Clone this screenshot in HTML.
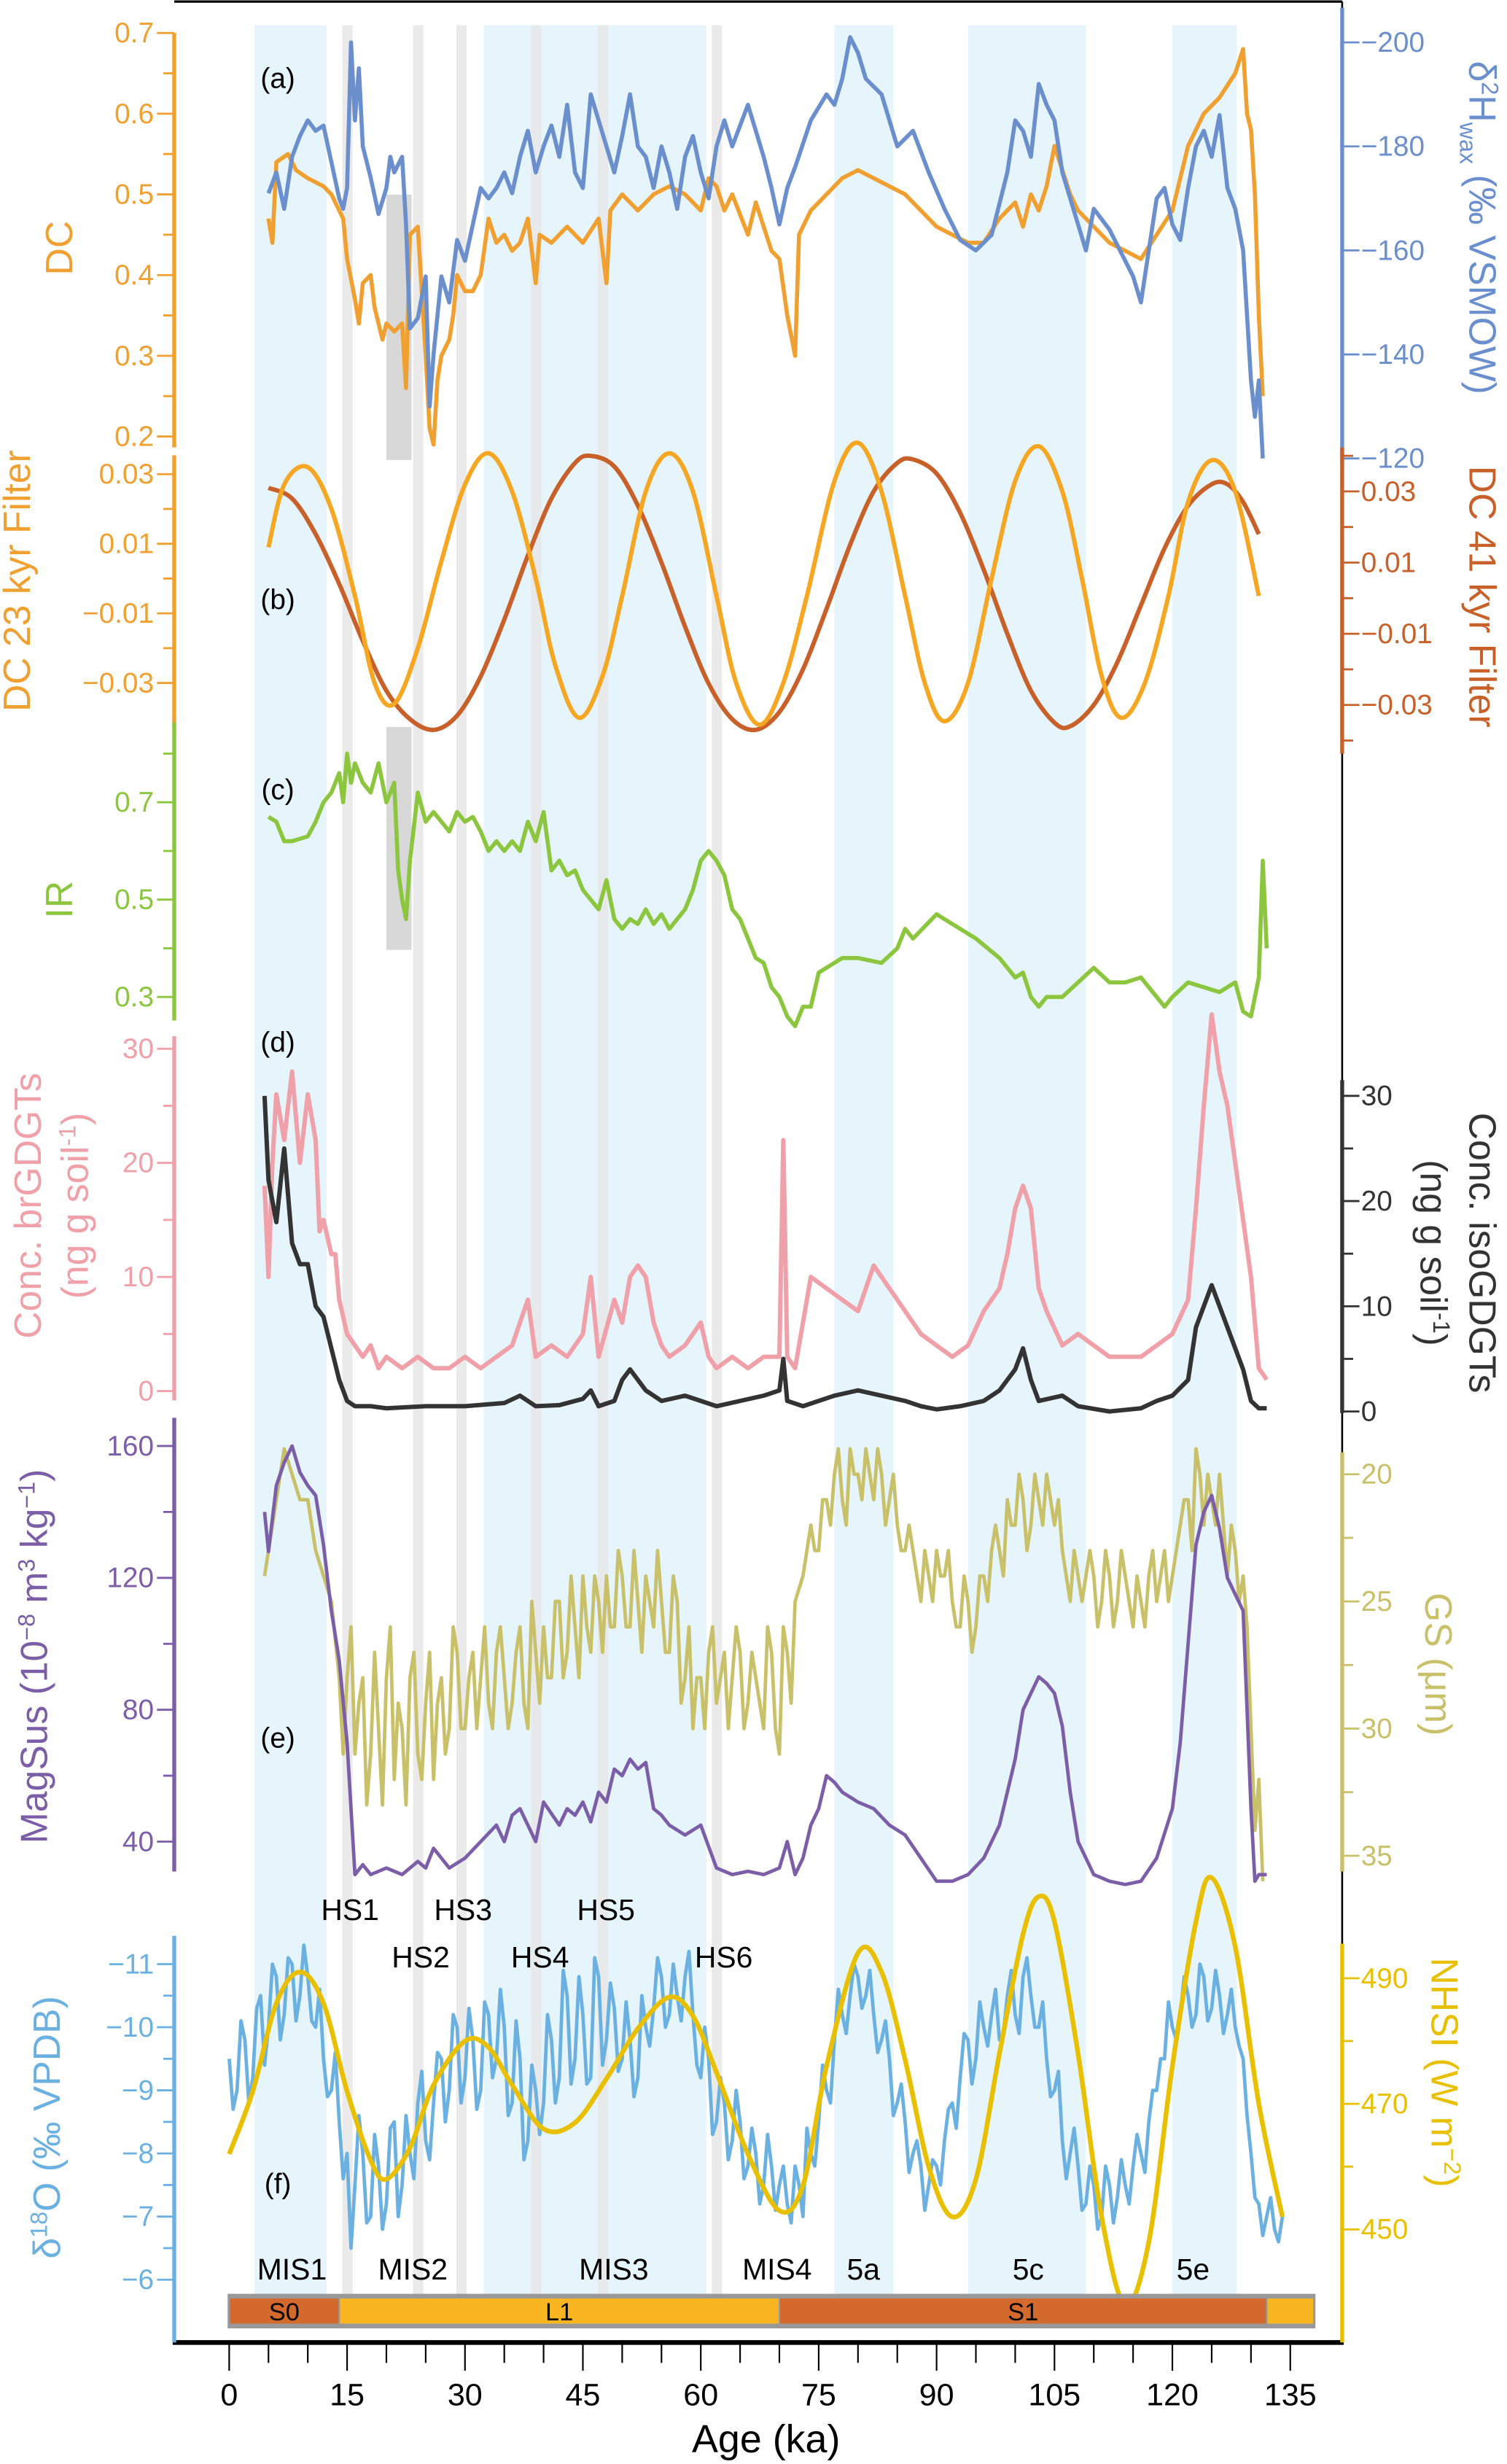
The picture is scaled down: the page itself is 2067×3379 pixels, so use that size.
<!DOCTYPE html>
<html><head><meta charset="utf-8"><style>
html,body{margin:0;padding:0;background:#fff}
svg{display:block}
text{font-family:"Liberation Sans",sans-serif}
</style></head><body>
<svg id="chart" width="2067" height="3379" viewBox="0 0 960 1569.4" preserveAspectRatio="none" xmlns="http://www.w3.org/2000/svg">
<g id="bands"></g>
<g id="series"></g>
<g id="axes"></g>
</svg>
<script>
// ---------- data ----------
const bandStarts=[3.2,32.4,77,94,120];
const bandEnds=[12.4,60.7,84.5,109,128.2];
const hsAges=[15,24,29.5,39,47.5,62];

const dcAge=[5,5.5,6,7.5,8.5,10,12,13,14,14.5,15,16,16.5,17,18,18.5,19,19.5,20,21,22,22.5,23,24,24.5,25,25.5,26,26.5,27,28,28.5,29,30,31,32,33,34,35,36,37,38,39,39.5,41,43,45,47,48,48.5,50,52,54,56,58,60,61,62,63,64,66,67,68,69,70,71,72,72.5,74,76,78,80,82,84,86,88,90,92,94,96,98,100,101,102,103,104,105,106,107,108,110,112,114,116,118,120,122,124,126,128,129,129.5,130,130.5,131,131.5];
const dcVal=[0.47,0.44,0.54,0.55,0.53,0.52,0.51,0.50,0.48,0.47,0.42,0.37,0.34,0.39,0.40,0.36,0.34,0.32,0.34,0.33,0.34,0.26,0.45,0.46,0.38,0.30,0.21,0.19,0.27,0.30,0.32,0.35,0.40,0.38,0.38,0.40,0.47,0.44,0.45,0.43,0.44,0.47,0.39,0.45,0.44,0.46,0.44,0.47,0.39,0.48,0.50,0.48,0.50,0.51,0.50,0.48,0.52,0.51,0.48,0.50,0.45,0.49,0.46,0.43,0.42,0.35,0.30,0.45,0.48,0.50,0.52,0.53,0.52,0.51,0.50,0.48,0.46,0.45,0.44,0.44,0.47,0.49,0.46,0.50,0.48,0.51,0.56,0.53,0.50,0.48,0.46,0.44,0.43,0.42,0.45,0.48,0.56,0.60,0.62,0.65,0.68,0.60,0.58,0.50,0.35,0.25];

const dhAge=[5,6,7,8,9,10,11,12,13,14,14.5,15,15.5,16,16.5,17,18,19,20,20.5,21,22,22.5,23,24,25,25.5,26,27,28,29,30,31,32,33,34,35,36,37,38,39,40,41,42,43,44,45,46,47,48,49,50,51,52,53,54,55,56,57,58,59,60,61,62,63,64,66,68,69,70,71,72,74,76,77,78,79,80,81,83,85,87,89,91,93,95,97,99,100,101,102,103,104,105,106,107,108,109,110,112,114,115,116,117,118,119,120,121,122,123,124,125,126,127,128,129,130,130.5,131,131.5];
const dhVal=[-171,-175,-168,-178,-182,-185,-183,-184,-177,-170,-168,-172,-200,-185,-195,-180,-174,-167,-172,-178,-175,-178,-165,-145,-147,-155,-130,-140,-155,-150,-162,-158,-165,-172,-170,-172,-175,-171,-178,-183,-175,-180,-184,-178,-188,-175,-172,-190,-185,-180,-175,-182,-190,-180,-178,-172,-180,-175,-168,-178,-182,-175,-170,-180,-185,-180,-188,-178,-172,-165,-172,-176,-185,-190,-188,-193,-201,-198,-193,-190,-180,-183,-175,-168,-162,-160,-163,-175,-185,-183,-178,-192,-188,-185,-175,-170,-165,-160,-168,-164,-158,-155,-150,-160,-170,-172,-165,-162,-172,-180,-183,-178,-186,-172,-168,-160,-135,-128,-135,-120];

const f23Age=[5,7,10,13,16,18.5,21,24,27,30,33,36,39,41.5,44.5,47.5,50,53,56,59,62,64.5,67.5,70.5,73.5,77,80,83,86,88.5,91,94,97,100,103,106,108.5,111,113.5,116.5,119.5,122,125,128,131];
const f23Val=[0.009,0.027,0.032,0.02,-0.005,-0.03,-0.036,-0.02,0.005,0.027,0.036,0.025,0,-0.025,-0.04,-0.028,-0.005,0.025,0.036,0.025,-0.005,-0.03,-0.042,-0.03,-0.005,0.028,0.039,0.025,-0.005,-0.03,-0.041,-0.03,0,0.028,0.038,0.025,0,-0.028,-0.04,-0.03,-0.005,0.022,0.034,0.025,-0.005];
const f41Age=[5,8,11,14,17,20,23,26,29,32,35,38,41,44,46,49,52,55,58,61,64,67,70,73,76,79,82,85,87,90,93,96,99,102,105,107,110,113,116,119,122,125,127,129,131];
const f41Val=[0.031,0.028,0.018,0.004,-0.012,-0.026,-0.034,-0.037,-0.033,-0.022,-0.006,0.012,0.028,0.038,0.04,0.037,0.026,0.01,-0.008,-0.024,-0.034,-0.037,-0.032,-0.02,-0.003,0.015,0.03,0.038,0.039,0.035,0.024,0.008,-0.01,-0.026,-0.035,-0.036,-0.03,-0.018,-0.002,0.014,0.026,0.032,0.032,0.027,0.018];

const irAge=[5,6,7,8,10,11,12,13,14,14.5,15,15.5,16,17,18,19,20,21,21.5,22,22.5,23,24,25,26,27,28,29,30,31,32,33,34,35,36,37,38,39,40,41,42,43,44,45,46,47,48,49,50,51,52,53,54,55,56,57,58,59,60,61,62,63,64,65,66,67,68,69,70,71,72,73,74,75,76,78,80,83,85,86,87,90,92,95,98,100,101,102,103,104,106,108,110,112,114,116,118,119,120,122,124,126,128,129,130,131,131.5,132];
const irVal=[0.67,0.66,0.62,0.62,0.63,0.66,0.70,0.72,0.76,0.70,0.80,0.74,0.78,0.74,0.72,0.78,0.70,0.74,0.56,0.50,0.46,0.58,0.72,0.66,0.68,0.66,0.64,0.68,0.66,0.67,0.64,0.60,0.62,0.60,0.62,0.60,0.66,0.62,0.68,0.56,0.58,0.55,0.56,0.52,0.50,0.48,0.54,0.46,0.44,0.46,0.45,0.48,0.45,0.47,0.44,0.46,0.48,0.52,0.58,0.60,0.58,0.55,0.48,0.46,0.42,0.38,0.37,0.32,0.30,0.26,0.24,0.28,0.28,0.35,0.36,0.38,0.38,0.37,0.40,0.44,0.42,0.47,0.45,0.42,0.38,0.34,0.35,0.30,0.28,0.30,0.30,0.33,0.36,0.33,0.33,0.34,0.30,0.28,0.30,0.33,0.32,0.31,0.33,0.27,0.26,0.34,0.58,0.40];

const brAge=[4.5,5,5.5,6,7,8,9,10,11,11.5,12,13,13.5,14,15,16,17,18,19,20,22,24,26,28,30,32,34,36,38,39,41,43,45,46,47,49,50,51,52,53,54,55,56,58,60,61,62,64,66,68,70,70.5,71,72,73,74,76,78,80,82,84,86,88,90,92,94,96,98,99,100,101,102,103,104,106,108,110,112,114,116,118,120,122,123,124,125,126,127,128,129,130,131,132];
const brVal=[18,10,20,26,22,28,20,26,22,14,15,12,12,8,5,4,3,4,2,3,2,3,2,2,3,2,3,4,8,3,4,3,5,10,3,8,6,10,11,10,6,4,3,4,6,3,2,3,2,3,3,22,3,2,6,10,9,8,7,11,9,7,5,4,3,4,7,9,12,16,18,16,9,7,4,5,4,3,3,3,4,5,8,16,25,33,28,25,20,15,10,2,1];
const isoAge=[4.5,5,6,7,8,9,10,11,12,13,14,15,16,18,20,25,30,35,37,39,42,45,46,47,49,50,51,52,53,55,58,60,62,65,68,70,70.5,71,73,75,77,80,83,86,88,90,93,96,98,100,101,102,103,106,108,112,116,118,120,122,123,124,125,126,127,128,129,130,131,132];
const isoVal=[30,22,18,25,16,14,14,10,9,6,3,1,0.5,0.5,0.3,0.5,0.5,0.8,1.5,0.5,0.6,1.2,2,0.5,1,3,4,3,2,1,1.5,1,0.5,1,1.5,2,5,1,0.5,1,1.5,2,1.5,1,0.5,0.2,0.5,1,2,4,6,3,1,1.5,0.5,0,0.3,1,1.5,3,8,10,12,10,8,6,4,1,0.3,0.3];

const msAge=[4.5,5,6,7,8,9,10,11,12,13,14,15,16,17,18,20,22,24,25,26,28,30,32,34,35,36,37,38,39,40,42,43,44,45,46,47,48,49,50,51,52,53,54,55,56,58,60,62,64,66,68,70,71,72,73,74,75,76,77,78,80,82,84,86,88,90,92,94,96,98,100,101,102,103,104,105,106,107,108,110,112,114,116,118,120,121,122,123,124,125,126,127,128,129,130,130.5,131,132];
const msVal=[140,128,148,155,160,152,148,145,130,110,95,70,30,33,30,32,30,34,32,38,32,35,40,45,40,48,50,45,40,52,45,50,48,52,46,55,52,62,60,65,62,64,50,48,45,42,45,32,30,31,30,32,40,30,35,45,50,60,58,55,52,50,45,42,35,28,28,30,35,45,65,80,85,90,88,85,75,55,40,30,28,27,28,35,50,70,100,130,140,145,135,120,115,110,50,28,30,30];

const gsAge=[4.5,5,6,7,8,9,10,11,12,13,14,15,16,17,18,19,20,21,22,23,24,25,26,27,28,29,30,31,32,33,34,35,36,37,38,39,40,41,42,43,44,45,46,47,48,49,50,51,52,53,54,55,56,57,58,59,60,61,62,63,64,65,66,67,68,69,70,71,72,73,74,75,76,77,78,79,80,81,82,83,84,85,86,87,88,89,90,91,92,93,94,95,96,97,98,99,100,101,102,103,104,105,106,107,108,110,111,112,113,114,115,116,117,118,119,120,121,122,123,124,125,126,127,128,129,130,130.5,131,131.5];
const gsVal=[24,23,21,19,20,21,21,23,24,25,28,28,31,28,31,30,28,32,30,28,31,29,32,28,30,27,30,27,28,29,27,28,29,26,30,27,26,28,25,27,26,24,27,25,24,26,24,26,25,24,26,25,27,25,28,30,28,27,29,27,28,27,29,28,30,27,31,27,25,24,22,23,21,20,21,19,20,19,21,20,21,22,23,23,25,24,23,24,25,26,25,26,24,23,23,21,22,21,22,21,20,22,23,25,24,24,25,24,25,24,26,25,24,25,23,24,22,21,19,22,21,20,24,23,24,30,34,32,36];
const gsMidAge=[14.5,15.5,16.5,17.5,18.5,19.5,20.5,21.5,22.5,23.5,24.5,25.5,26.5,27.5,28.5,29.5,30.5,31.5,32.5,33.5,34.5,35.5,36.5,37.5,38.5,39.5,40.5,41.5,42.5,43.5,44.5,45.5,46.5,47.5,48.5,49.5,50.5,51.5,52.5,53.5,54.5,55.5,56.5,57.5,58.5,59.5,60.5,61.5,62.5,63.5,64.5,65.5,66.5,67.5,68.5,69.5,70.5,71.5,73.5,74.5,75.5,76.5,77.5,78.5,79.5,80.5,81.5,82.5,83.5,84.5,85.5,86.5,87.5,88.5,89.5,90.5,91.5,92.5,93.5,94.5,95.5,96.5,97.5,98.5,99.5,100.5,101.5,102.5,103.5,104.5,105.5,106.5,107.5,108.5,109.5,110.5,111.5,112.5,113.5,114.5,115.5,116.5,117.5,118.5,119.5,120.5,121.5,122.5,123.5,124.5,125.5,126.5,127.5,128.5,129.5];
const gsMidVal=[31,26,29,33,27,33,26,29,33,27,32,27,29,31,26,30,28,30,26,30,26,30,27,29,25,29,28,25,28,24,28,26,24,27,26,23,26,23,27,25,23,27,24,29,26,28,30,26,28,30,26,30,27,29,26,30,26,29,23,23,21,22,19,22,20,21,20,19,22,20,23,22,24,23,25,24,23,26,24,27,24,25,22,24,22,20,23,20,22,21,21,24,23,25,23,26,23,26,23,25,24,26,23,24,25,23,21,23,20,20,22,22,22,25,26];

const d18Age=[0,1,2,3,4,5,6,7,8,9,10,11,12,13,14,15,15.5,16,17,18,19,20,21,22,23,24,25,26,27,28,29,30,31,32,33,34,35,36,37,38,39,40,41,42,43,44,45,46,47,48,49,50,51,52,53,54,55,56,57,58,59,60,61,62,63,64,65,66,67,68,69,70,71,72,73,74,75,76,77,78,79,80,81,82,83,84,85,86,87,88,89,90,91,92,93,94,95,96,97,98,99,100,101,102,103,104,105,106,107,108,109,110,111,112,113,114,115,116,117,118,119,120,121,122,123,124,125,126,127,128,129,130,131,132,133,134];
const d18Val=[-9.5,-9,-9.8,-9.2,-10.5,-10,-10.8,-10.2,-11,-10.5,-10.8,-10,-9.5,-9,-8.5,-8,-6.5,-7.5,-8,-7,-7.8,-7.2,-8.5,-7.5,-8,-8.8,-8.2,-8.8,-9.5,-9,-10,-9.2,-9.8,-9,-10.2,-9.5,-10,-8.8,-9.5,-8.2,-9,-8.8,-9.8,-9.2,-10.5,-9.5,-10.2,-9.2,-10.8,-9.8,-10.3,-9.5,-9.8,-9.2,-10,-10.3,-10.8,-10.2,-10.5,-10.8,-10.2,-9.2,-9.5,-8.5,-8.8,-8.2,-8.5,-7.8,-8,-7.5,-7.8,-7.5,-7.2,-7.8,-7,-8,-8.5,-9,-9.8,-10.2,-10.5,-10.8,-10.5,-10.2,-9.8,-9.5,-8.8,-8.5,-8,-7.8,-7.5,-7.8,-8.2,-8.8,-9.2,-9.8,-9.5,-10,-10.2,-9.8,-10.5,-10.2,-10.8,-10.5,-10,-9.5,-9,-8.2,-8,-7.8,-7.2,-7.5,-7,-7.5,-7.3,-7.5,-7.8,-8,-8.5,-9,-9.5,-10,-10.2,-10.5,-10.2,-10.8,-10.3,-10.5,-10.2,-10,-9.5,-8,-7.2,-7,-6.8,-7];
const d18MidAge=[0.5,1.5,2.5,3.5,4.5,5.5,6.5,7.5,8.5,9.5,10.5,11.5,12.5,13.5,14.5,16.5,17.5,18.5,19.5,20.5,21.5,22.5,23.5,24.5,25.5,26.5,27.5,28.5,29.5,30.5,31.5,32.5,33.5,34.5,35.5,36.5,37.5,38.5,39.5,40.5,41.5,42.5,43.5,44.5,45.5,46.5,47.5,48.5,49.5,50.5,51.5,52.5,53.5,54.5,55.5,56.5,57.5,58.5,59.5,60.5,61.5,62.5,63.5,64.5,65.5,66.5,67.5,68.5,69.5,70.5,71.5,72.5,73.5,74.5,75.5,76.5,77.5,78.5,79.5,80.5,81.5,82.5,83.5,84.5,85.5,86.5,87.5,88.5,89.5,90.5,91.5,92.5,93.5,94.5,95.5,96.5,97.5,98.5,99.5,100.5,101.5,102.5,103.5,104.5,105.5,106.5,107.5,108.5,109.5,110.5,111.5,112.5,113.5,114.5,115.5,116.5,117.5,118.5,119.5,120.5,121.5,122.5,123.5,124.5,125.5,126.5,127.5,128.5,129.5,130.5,131.5,132.5,133.5];
const d18MidVal=[-8.7,-10.1,-8.8,-10.3,-9.4,-11,-9.8,-11.1,-10.1,-11.3,-10.1,-10.6,-8.9,-9.6,-7.6,-8.6,-6.9,-8.3,-6.8,-8.4,-7,-8.6,-7.6,-9.3,-7.9,-9.6,-8.5,-10.2,-8.8,-10.3,-8.7,-10.4,-9.2,-10.6,-8.6,-10.1,-7.9,-9.4,-8.3,-10.2,-8.8,-10.9,-9.1,-10.8,-9.1,-11.1,-9.4,-10.7,-9.3,-10.4,-8.9,-10.5,-9.7,-11.1,-10,-11,-10.1,-11.2,-9.4,-10,-8.3,-9.2,-7.9,-9,-7.6,-8.4,-7.2,-8.3,-7.1,-7.8,-6.9,-7.5,-8.4,-7.8,-9.4,-8.8,-10.6,-9.9,-11,-10.3,-10.9,-9.6,-10.1,-8.6,-9.1,-7.7,-8.2,-7.1,-7.9,-7.5,-8.7,-8.4,-9.9,-9.1,-10.4,-9.7,-10.6,-9.9,-10.9,-9.9,-11.1,-10,-10.4,-8.9,-9.3,-7.6,-8.4,-7.1,-7.8,-6.8,-7.8,-6.9,-7.9,-7.2,-8.3,-7.7,-9,-9.5,-10.4,-9.8,-10.8,-10,-11,-10.1,-10.9,-9.9,-10.6,-9.7,-8.6,-7.3,-6.7,-7.3,-6.6];

const nhAge=[0,3,6,9,12,15,18,20,23,26,30,33,36,40,44,48,52,56,59,62,66,70,73,76,80,83,86,89,92,95,98,101,103,105,108,111,114,117,120,123,125,128,131,134];
const nhVal=[462,472,486,491,486,472,461,458,463,473,480,479,473,466,467,474,482,487,484,475,462,453,457,476,494,491,477,460,452,458,478,497,503,499,478,452,438,448,476,499,506,495,470,452];

const stratNames=["S0","L1","S1",""];
const stratStart=[0,14,70,132];
const stratEnd=[14,70,132,138];

// ---------- helpers ----------
const NS="http://www.w3.org/2000/svg";
const X=a=>146+a*5.007;
function lin(v0,y0,v1,y1){return v=>y0+(v-v0)*(y1-y0)/(v1-v0);}
function mk(tag,attrs,parent){const e=document.createElementNS(NS,tag);for(const k in attrs)e.setAttribute(k,attrs[k]);parent.appendChild(e);return e;}
function merge(a1,v1,a2,v2){const p=a1.map((a,i)=>[a,v1[i]]).concat(a2.map((a,i)=>[a,v2[i]]));p.sort((x,y)=>x[0]-y[0]);return [p.map(q=>q[0]),p.map(q=>q[1])];}
const gB=document.getElementById('bands'),gS=document.getElementById('series'),gA=document.getElementById('axes');

const yDC=lin(0.7,21,0.2,278), yDH=lin(-200,27,-120,292);
const yF23=lin(0.03,302,-0.03,435), yF41=lin(0.03,313,-0.03,449);
const yIR=lin(0.7,511,0.3,635);
const yBR=lin(30,668,0,886), yISO=lin(30,698,0,899);
const yMS=lin(160,921,40,1173), yGS=lin(20,939,35,1182);
const yD18=lin(-11,1251,-6,1452), yNH=lin(490,1260,450,1420);

for(let i=0;i<bandStarts.length;i++){
  const r=mk('rect',{x:X(bandStarts[i]),y:16,width:X(bandEnds[i])-X(bandStarts[i]),height:1467,fill:'#e6f4fb'},gB);
  
  
}
for(let i=0;i<hsAges.length;i++){
  const r=mk('rect',{x:X(hsAges[i])-3,y:16,width:6.5,height:1467,fill:'#e6e6e6',opacity:0.85},gB);
  
  
}
let db=mk('rect',{x:X(20),y:124,width:X(23.2)-X(20),height:169,fill:'#d8d8d8'},gB);


db=mk('rect',{x:X(20),y:463,width:X(23.2)-X(20),height:142,fill:'#d8d8d8'},gB);



function smoothPath(pts){
  let d='M'+pts[0][0]+','+pts[0][1];
  for(let i=0;i<pts.length-1;i++){
    const p0=pts[Math.max(0,i-1)],p1=pts[i],p2=pts[i+1],p3=pts[Math.min(pts.length-1,i+2)];
    const c1=[p1[0]+(p2[0]-p0[0])/6,p1[1]+(p2[1]-p0[1])/6],c2=[p2[0]-(p3[0]-p1[0])/6,p2[1]-(p3[1]-p1[1])/6];
    d+=' C'+c1.join(',')+' '+c2.join(',')+' '+p2.join(',');
  }
  return d;
}
function series(ages,vals,yf,color,w,name,smooth){
  const pts=ages.map((a,i)=>[X(a),yf(vals[i])]);
  const d=smooth?smoothPath(pts):'M'+pts.map(p=>p.join(',')).join(' L');
  const p=mk('path',{d:d,fill:'none',stroke:color,'stroke-width':w,'stroke-linejoin':'round'},gS);
  
  
}
const gsAll=merge(gsAge,gsVal,gsMidAge,gsMidVal);
const d18All=merge(d18Age,d18Val,d18MidAge,d18MidVal);
series(dcAge,dcVal,yDC,'#f0a030',2.6,'dc-line');
series(dhAge,dhVal,yDH,'#6a8fcc',2.6,'d2h-wax-line');
series(f41Age,f41Val,yF41,'#c8602a',2.8,'dc-41kyr-filter-line',true);
series(f23Age,f23Val,yF23,'#f5a623',2.8,'dc-23kyr-filter-line',true);
series(irAge,irVal,yIR,'#8cc63f',2.6,'ir-line');
series(brAge,brVal,yBR,'#f0a0a8',2.8,'brgdgt-line');
series(isoAge,isoVal,yISO,'#333333',2.8,'isogdgt-line');
series(gsAll[0],gsAll[1],yGS,'#c9c06a',2.2,'grain-size-line');
series(msAge,msVal,yMS,'#7b5ea7',2.2,'magsus-line');
series(d18All[0],d18All[1],yD18,'#6ab0e0',2.2,'d18o-line');
series(nhAge,nhVal,yNH,'#e8c000',3,'nhsi-line',true);

mk('rect',{x:X(0)-1,y:1461,width:X(138)-X(0)+2,height:22,fill:'#999'},gS);
const sc=['#d4692e','#f9b620','#d4692e','#f9b620'];
for(let i=0;i<stratNames.length;i++){
  const r=mk('rect',{x:X(stratStart[i])+0.5,y:1464,width:X(stratEnd[i])-X(stratStart[i])-1,height:16,fill:sc[i]},gS);
  
  
  if(stratNames[i]){
    const t=mk('text',{x:(X(stratStart[i])+X(stratEnd[i]))/2,y:1478,'text-anchor':'middle','font-size':16,fill:'#000'},gS);
    t.textContent=stratNames[i];
    
    
  }
}

mk('line',{x1:111,y1:1,x2:855,y2:1,stroke:'#000','stroke-width':1.5},gA);
mk('line',{x1:855,y1:1,x2:855,y2:1492,stroke:'#000','stroke-width':1.2},gA);
const xa=mk('line',{x1:110,y1:1492,x2:856,y2:1492,stroke:'#000','stroke-width':3},gA);


for(let a=0;a<=138;a+=5){
  mk('line',{x1:X(a),y1:1492,x2:X(a),y2:a%15===0?1510:1505,stroke:'#000','stroke-width':1},gA);
}
const xTicks=[0,15,30,45,60,75,90,105,120,135];
xTicks.forEach(a=>{const t=mk('text',{x:X(a),y:1532,'text-anchor':'middle','font-size':20},gA);t.textContent=a;
  
  });
let tt=mk('text',{x:488,y:1562,'text-anchor':'middle','font-size':25},gA);tt.textContent='Age (ka)';



function axis(side,y0,y1,yf,ticks,labels,minor,color,name){
  const x=side==='L'?111:855,dir=side==='L'?-1:1;
  const l=mk('line',{x1:x,y1:y0,x2:x,y2:y1,stroke:color,'stroke-width':2.5},gA);
  
  
  minor.forEach(v=>mk('line',{x1:x,y1:yf(v),x2:x+dir*7,y2:yf(v),stroke:color,'stroke-width':1.3},gA));
  ticks.forEach((v,i)=>{
    mk('line',{x1:x,y1:yf(v),x2:x+dir*11,y2:yf(v),stroke:color,'stroke-width':1.3},gA);
    const t=mk('text',{x:x+dir*(side==='L'?13:12),y:yf(v)+6,'text-anchor':side==='L'?'end':'start','font-size':18,fill:color},gA);
    t.textContent=labels[i];
    
    
  });
}
const OR='#f0a030';
axis('L',21,285,yDC,[0.7,0.6,0.5,0.4,0.3,0.2],['0.7','0.6','0.5','0.4','0.3','0.2'],[0.65,0.55,0.45,0.35,0.25],OR,'dc-axis');
axis('R',5,296,yDH,[-200,-180,-160,-140,-120],['−200','−180','−160','−140','−120'],[],'#6a8fcc','d2h-axis');
axis('L',290,465,yF23,[0.03,0.01,-0.01,-0.03],['0.03','0.01','−0.01','−0.03'],[0.02,0,-0.02],OR,'f23-axis');
axis('R',285,480,yF41,[0.03,0.01,-0.01,-0.03],['0.03','0.01','−0.01','−0.03'],[0.04,0.02,0,-0.02,-0.04],'#c8602a','f41-axis');
axis('L',460,650,yIR,[0.7,0.5,0.3],['0.7','0.5','0.3'],[0.8,0.6,0.4],'#8cc63f','ir-axis');
axis('L',660,892,yBR,[30,20,10,0],['30','20','10','0'],[25,15,5],'#f0a0a8','brgdgt-axis');
axis('R',688,900,yISO,[30,20,10,0],['30','20','10','0'],[25,15,5],'#333','isogdgt-axis');
axis('L',903,1192,yMS,[160,120,80,40],['160','120','80','40'],[140,100,60],'#7b5ea7','magsus-axis');
axis('R',925,1192,yGS,[20,25,30,35],['20','25','30','35'],[22.5,27.5,32.5],'#c9c06a','gs-axis');
axis('L',1233,1492,yD18,[-11,-10,-9,-8,-7,-6],['−11','−10','−9','−8','−7','−6'],[-10.5,-9.5,-8.5,-7.5,-6.5],'#6ab0e0','d18o-axis');
axis('R',1238,1492,yNH,[490,470,450],['490','470','450'],[480,460],'#e8c000','nhsi-axis');

function rtext(x,y,rot,html,color,name,size){
  const t=mk('text',{x:x,y:y,'text-anchor':'middle','font-size':size||24,fill:color,transform:`rotate(${rot} ${x} ${y})`},gA);
  t.innerHTML=html;
  
  
}
rtext(46,158,-90,'DC',OR,'dc-axis-title');
rtext(19,370,-90,'DC 23 kyr Filter',OR,'f23-axis-title');
rtext(46,573,-90,'IR','#8cc63f','ir-axis-title');
rtext(26,768,-90,'Conc. brGDGTs','#f0a0a8','brgdgt-axis-title');
rtext(56,768,-90,'(ng g soil<tspan dy="-8" font-size="15">-1</tspan><tspan dy="8">)</tspan>','#f0a0a8','brgdgt-axis-unit');
rtext(30,1055,-90,'MagSus (10<tspan dy="-8" font-size="15">−8</tspan><tspan dy="8"> m</tspan><tspan dy="-8" font-size="15">3</tspan><tspan dy="8"> kg</tspan><tspan dy="-8" font-size="15">−1</tspan><tspan dy="8">)</tspan>','#7b5ea7','magsus-axis-title');
rtext(38,1355,-90,'δ<tspan dy="-8" font-size="15">18</tspan><tspan dy="8">O (‰ VPDB)</tspan>','#6ab0e0','d18o-axis-title');
rtext(936,145,90,'δ<tspan dy="-8" font-size="15">2</tspan><tspan dy="8">H</tspan><tspan dy="6" font-size="15">wax</tspan><tspan dy="-6"> (‰ VSMOW)</tspan>','#6a8fcc','d2h-axis-title');
rtext(936,380,90,'DC 41 kyr Filter','#c8602a','f41-axis-title');
rtext(936,798,90,'Conc. isoGDGTs','#333','isogdgt-axis-title');
rtext(905,798,90,'(ng g soil<tspan dy="-8" font-size="15">-1</tspan><tspan dy="8">)</tspan>','#333','isogdgt-axis-unit');
rtext(908,1060,90,'GS (μm)','#c9c06a','gs-axis-title');
rtext(912,1320,90,'NHSI (W m<tspan dy="-8" font-size="15">−2</tspan><tspan dy="8">)</tspan>','#e8c000','nhsi-axis-title');

function label(x,y,s,name,size){const t=mk('text',{x:x,y:y,'text-anchor':'middle','font-size':size||19,fill:'#000'},gA);t.textContent=s;
  
  }
[['(a)',56],['(b)',388],['(c)',509],['(d)',670],['(e)',1113],['(f)',1397]].forEach(p=>label(177,p[1],p[0],'panel-label',18));
[['HS1',223,1223],['HS2',268,1253],['HS3',295,1223],['HS4',344,1253],['HS5',386,1223],['HS6',461,1253]].forEach(p=>label(p[1],p[2],p[0],'hs-label'));
[['MIS1',186,1452],['MIS2',263,1452],['MIS3',391,1452],['MIS4',495,1452],['5a',550,1452],['5c',655,1452],['5e',760,1452]].forEach(p=>label(p[1],p[2],p[0],'mis-label'));
</script>
</body></html>
